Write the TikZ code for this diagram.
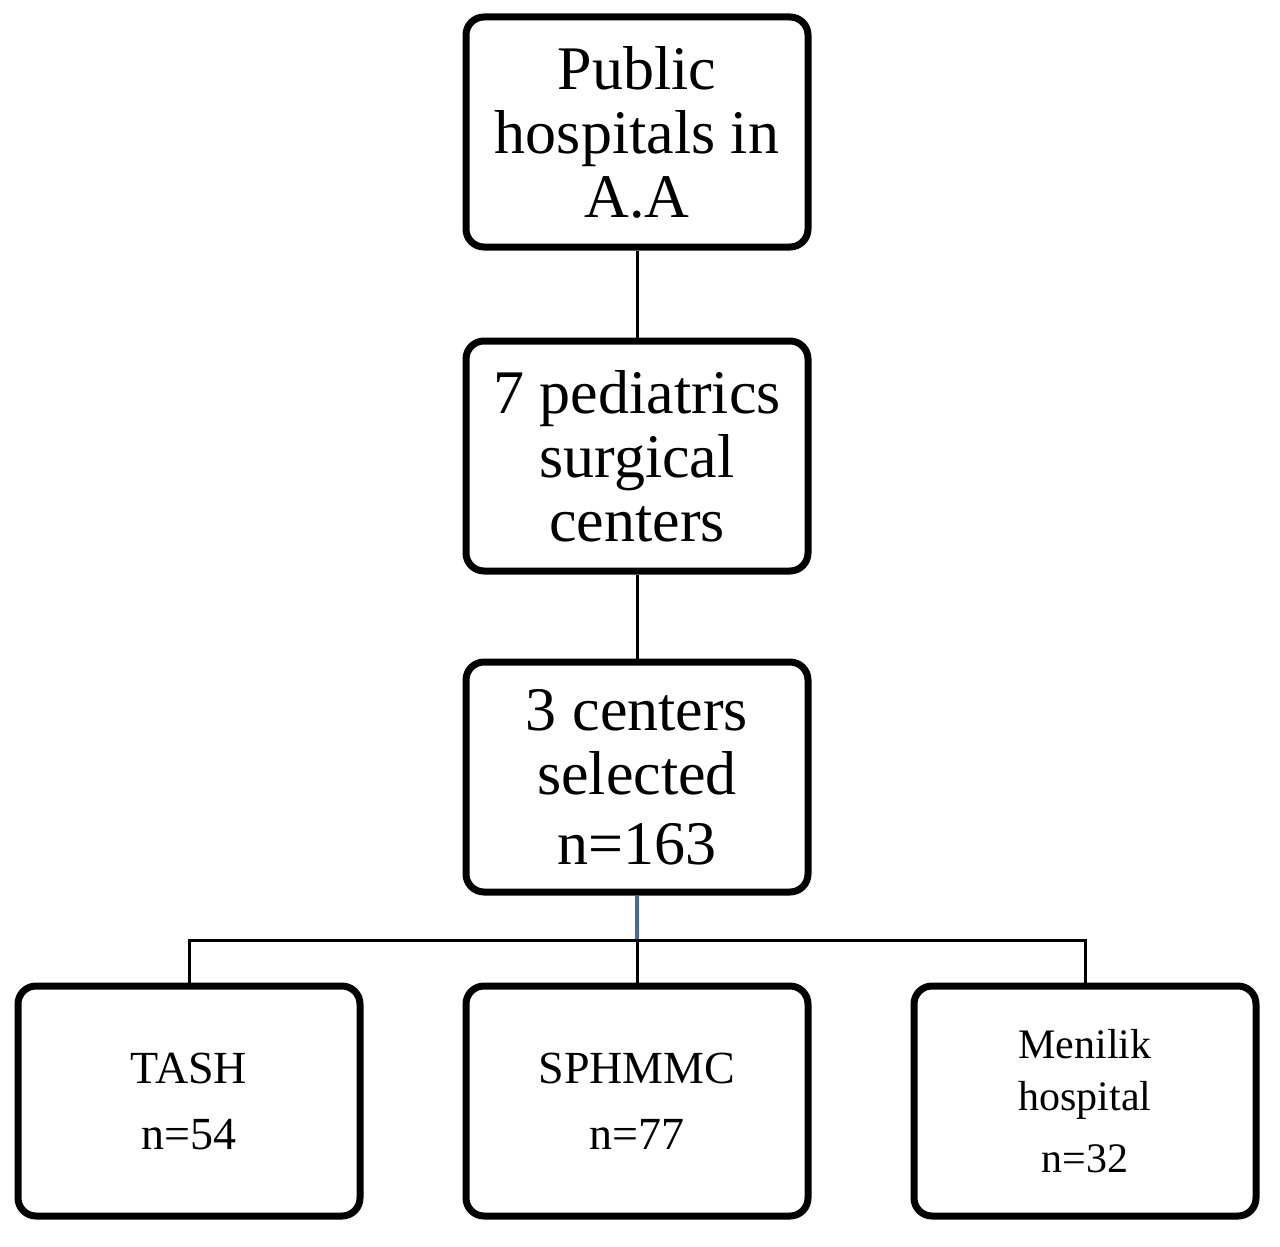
\documentclass[tikz,border=0pt]{standalone}
\usepackage{fontspec}
\setmainfont{Liberation Serif}
\definecolor{steel}{RGB}{70,105,165}
\begin{document}
\begin{tikzpicture}[x=1pt,y=-1pt,
  box/.style={draw,line width=7pt,rounded corners=18pt,minimum width=342pt,minimum height=230pt,align=center,inner sep=0pt},
  big/.style={font=\fontsize{62}{64}\selectfont},
  small/.style={font=\fontsize{46}{66}\selectfont},
  conn/.style={line width=3pt}]
\useasboundingbox (0,0) rectangle (1280,1247);
\node[box,big] (a) at (637,132) {Public\\hospitals in\\A.A};
\node[box,big] (b) at (637,456) {7 pediatrics\\surgical\\centers};
\node[box,big] (c) at (637,777) {3 centers\\selected\\[6pt]n=163};
\node[box,small] (d) at (189,1101) {TASH\\n=54};
\node[box,small] (e) at (637,1101) {SPHMMC\\n=77};
\node[box,small,font=\fontsize{42}{52}\selectfont] (f) at (1085,1101) {Menilik\\hospital\\[10pt]n=32};
\coordinate (j) at (637,940);
\draw[conn] (a) -- (b);
\draw[conn] (b) -- (c);
\draw[line width=4.5pt,color=steel] (c) -- (j);
\draw[conn] (j) -- (e);
\draw[conn] (d.north) |- (j) -| (f.north);
\end{tikzpicture}
\end{document}
